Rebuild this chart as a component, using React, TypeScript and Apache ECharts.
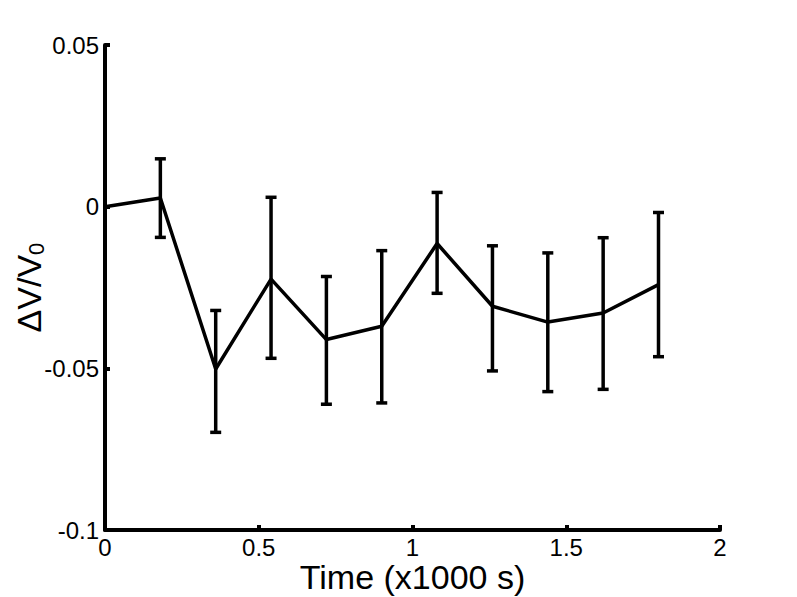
import React, { useEffect, useRef } from "react";
import * as echarts from "echarts";

const times = [0, 0.18, 0.36, 0.54, 0.72, 0.9, 1.08, 1.26, 1.44, 1.62, 1.8];
const means = [0, 0.0027, -0.0502, -0.0224, -0.0411, -0.037, -0.0114, -0.0308, -0.0357, -0.0329, -0.0241];
const upper = [null, 0.0148, -0.0321, 0.0029, -0.0216, -0.0136, 0.0044, -0.0121, -0.0143, -0.0096, -0.0018];
const lower = [null, -0.0095, -0.0698, -0.0469, -0.0611, -0.0607, -0.0268, -0.0508, -0.0572, -0.0565, -0.0464];
const xTicks = [0, 0.5, 1, 1.5, 2];
const yTicks = [-0.1, -0.05, 0, 0.05];

const FONT = "'Liberation Sans', Arial, sans-serif";

export default function App() {
  const ref = useRef<HTMLDivElement>(null);
  useEffect(() => {
    if (!ref.current) return;
    const chart = echarts.init(ref.current, null, { renderer: "svg" });
    const lineData = times.map((t, i) => [t, means[i]]);
    const errData = times
      .map((t, i) => [t, lower[i], upper[i]])
      .filter((d) => d[1] !== null && d[2] !== null);
    chart.setOption({
      animation: false,
      backgroundColor: "#ffffff",
      grid: { left: 105, right: 77, top: 45, bottom: 67, containLabel: false, outerBoundsMode: "none" },
      xAxis: {
        type: "value",
        min: xTicks[0],
        max: xTicks[xTicks.length - 1],
        interval: 0.5,
        name: "Time (x1000 s)",
        nameLocation: "middle",
        nameGap: 30,
        nameMoveOverlap: false,
        nameTextStyle: { fontFamily: FONT, fontSize: 34, lineHeight: 34, color: "#000" },
        axisLine: { show: true, onZero: false, lineStyle: { color: "#000", width: 4 } },
        axisTick: { show: true, inside: true, length: 5, lineStyle: { color: "#000", width: 4 } },
        axisLabel: {
          fontFamily: FONT,
          fontSize: 24,
          lineHeight: 20,
          color: "#000",
          margin: 7,
          formatter: (v: number) => String(v),
        },
        splitLine: { show: false },
      },
      yAxis: {
        type: "value",
        min: yTicks[0],
        max: yTicks[yTicks.length - 1],
        interval: 0.05,
        name: "ΔV/V{sub|0}",
        nameLocation: "middle",
        nameGap: 58,
        nameRotate: 90,
        nameMoveOverlap: false,
        nameTextStyle: {
          fontFamily: FONT,
          fontSize: 34,
          color: "#000",
          rich: {
            sub: { fontFamily: FONT, fontSize: 22, color: "#000", padding: [14, 0, 0, 0] },
          },
        },
        axisLine: { show: true, onZero: false, lineStyle: { color: "#000", width: 4 } },
        axisTick: { show: true, inside: true, length: 5, lineStyle: { color: "#000", width: 4 } },
        axisLabel: {
          fontFamily: FONT,
          fontSize: 24,
          color: "#000",
          margin: 6,
          formatter: (v: number) => String(Math.round(v * 1000) / 1000),
        },
        splitLine: { show: false },
      },
      series: [
        {
          type: "line",
          data: lineData,
          symbol: "none",
          lineStyle: { color: "#000", width: 3.5 },
          z: 3,
        },
        {
          type: "custom",
          data: errData,
          z: 4,
          renderItem: (params: any, api: any) => {
            const x = api.value(0);
            const lo = api.coord([x, api.value(1)]);
            const hi = api.coord([x, api.value(2)]);
            const cap = 5.5;
            const style = { stroke: "#000", lineWidth: 3.5 };
            return {
              type: "group",
              children: [
                { type: "line", shape: { x1: lo[0], y1: lo[1], x2: hi[0], y2: hi[1] }, style },
                { type: "line", shape: { x1: hi[0] - cap, y1: hi[1], x2: hi[0] + cap, y2: hi[1] }, style },
                { type: "line", shape: { x1: lo[0] - cap, y1: lo[1], x2: lo[0] + cap, y2: lo[1] }, style },
              ],
            };
          },
        },
      ],
    });
    return () => chart.dispose();
  }, []);
  return (
    <div
      ref={ref}
      style={{ position: "fixed", left: 0, top: 0, width: 797, height: 597 }}
    />
  );
}
